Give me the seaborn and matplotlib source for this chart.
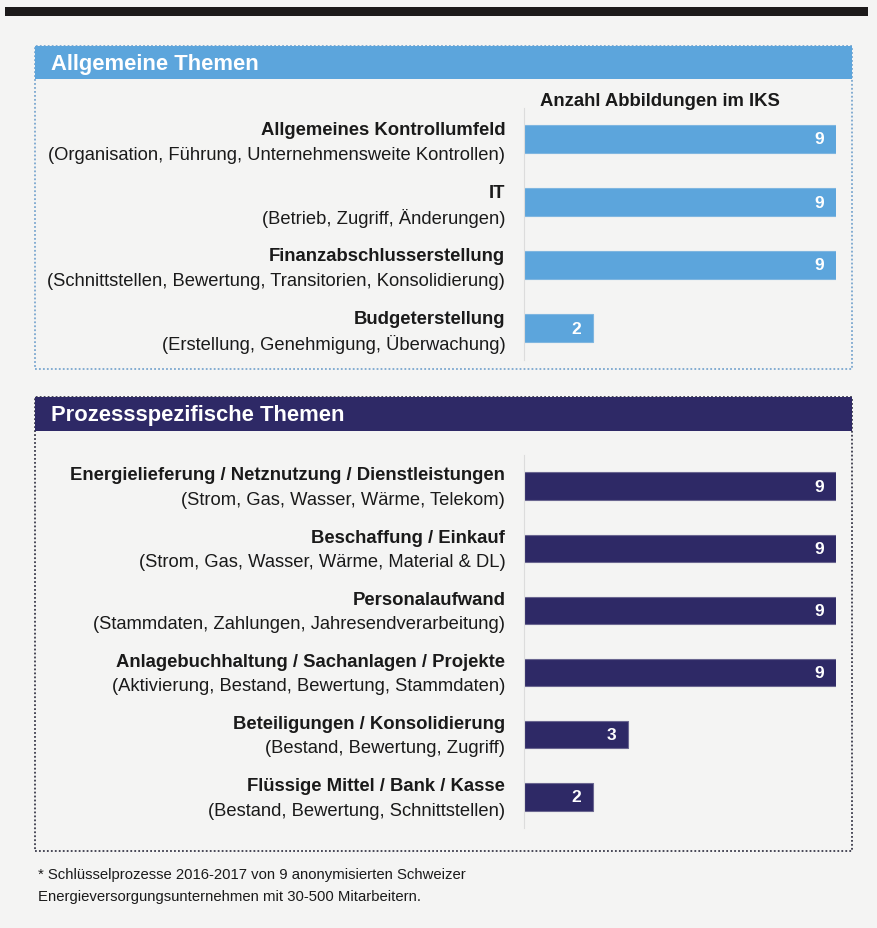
import matplotlib
matplotlib.use("Agg")
import matplotlib.pyplot as plt
from matplotlib.patches import Rectangle
import seaborn as sns
import pandas as pd

# ---- data ----
general_topics = ["Allgemeines Kontrollumfeld", "IT", "Finanzabschlusserstellung", "Budgeterstellung"]
general_details = ["(Organisation, Führung, Unternehmensweite Kontrollen)",
                   "(Betrieb, Zugriff, Änderungen)",
                   "(Schnittstellen, Bewertung, Transitorien, Konsolidierung)",
                   "(Erstellung, Genehmigung, Überwachung)"]
general_counts = [9, 9, 9, 2]

process_topics = ["Energielieferung / Netznutzung / Dienstleistungen", "Beschaffung / Einkauf",
                  "Personalaufwand", "Anlagebuchhaltung / Sachanlagen / Projekte",
                  "Beteiligungen / Konsolidierung", "Flüssige Mittel / Bank / Kasse"]
process_details = ["(Strom, Gas, Wasser, Wärme, Telekom)",
                   "(Strom, Gas, Wasser, Wärme, Material & DL)",
                   "(Stammdaten, Zahlungen, Jahresendverarbeitung)",
                   "(Aktivierung, Bestand, Bewertung, Stammdaten)",
                   "(Bestand, Bewertung, Zugriff)",
                   "(Bestand, Bewertung, Schnittstellen)"]
process_counts = [9, 9, 9, 9, 3, 2]

header1 = "Allgemeine Themen"
header2 = "Prozessspezifische Themen"
axis_title = "Anzahl Abbildungen im IKS"
footnote = ("* Schlüsselprozesse 2016-2017 von 9 anonymisierten Schweizer\n"
            "Energieversorgungsunternehmen mit 30-500 Mitarbeitern.")

BLUE = "#5ca5dc"
PURPLE = "#2e2966"
BG = "#f4f4f3"

sns.set_theme(style="white")
plt.rcParams["font.family"] = ["Liberation Sans", "DejaVu Sans"]

W, H = 877, 929
fig = plt.figure(figsize=(W / 100, H / 100), dpi=100)
fig.patch.set_facecolor(BG)

def fx(px):
    return px / W

def fy(py):
    return 1 - py / H

# top black rule
fig.add_artist(Rectangle((fx(5), fy(17)), fx(868) - fx(5), fy(8) - fy(17),
                         transform=fig.transFigure, color="#1c1a1a", lw=0))

def panel(top, bottom, head_h, color, edge, title):
    # dotted frame
    fig.add_artist(Rectangle((fx(35), fy(bottom)), fx(852) - fx(35), fy(top) - fy(bottom),
                             transform=fig.transFigure, fill=False, ec=edge, lw=1.3,
                             ls=(0, (1, 1.2))))
    # header band
    fig.add_artist(Rectangle((fx(35), fy(top + head_h)), fx(852) - fx(35), fy(top) - fy(top + head_h),
                             transform=fig.transFigure, color=color, lw=0))
    fig.text(fx(51), fy(top + head_h / 2 + 1), title, color="white", fontsize=15.8,
             fontweight="bold", va="center", ha="left")

panel(47, 370, 33, BLUE, "#7ba7cf", header1)
panel(398, 852, 34, PURPLE, "#3a3a4a", header2)

def bar_axis(top_px, bottom_px, n, topics, details, counts, color, edge, t_off, d_off):
    ax = fig.add_axes([fx(524), fy(bottom_px), fx(836) - fx(524), fy(top_px) - fy(bottom_px)])
    df = pd.DataFrame({"Thema": topics, "Anzahl": counts})
    sns.barplot(data=df, x="Anzahl", y="Thema", orient="h", color=color, width=0.44,
                saturation=1, edgecolor=edge, linewidth=0.8, ax=ax)
    ax.set_xlim(0, 9)
    ax.set_ylim(n - 0.5, -0.5)
    ax.set_facecolor("none")
    ax.set_xticks([])
    ax.set_yticks([])
    ax.set_xlabel("")
    ax.set_ylabel("")
    for s in ["top", "right", "bottom"]:
        ax.spines[s].set_visible(False)
    ax.spines["left"].set_color("#dcdcdc")
    ax.spines["left"].set_linewidth(0.8)
    tr = ax.get_yaxis_transform()
    for i, (t, d, v) in enumerate(zip(topics, details, counts)):
        ax.text(-0.06, i + t_off, t, transform=tr, ha="right", va="center",
                fontsize=13.3, fontweight="bold", color="#1a1a1a")
        ax.text(-0.06, i + d_off, d, transform=tr, ha="right", va="center",
                fontsize=13.2, color="#1a1a1a")
        ax.text(v - 0.49, i, str(v), ha="center", va="center", color="white",
                fontsize=12.5, fontweight="bold")
    return ax

ax1 = bar_axis(108.5, 360.5, 4, general_topics, general_details, general_counts,
               BLUE, "#7fb6e0", -0.15, 0.25)
ax2 = bar_axis(455.9, 829.1, 6, process_topics, process_details, process_counts,
               PURPLE, "#6a6690", -0.18, 0.21)

fig.text(fx(660), fy(102), axis_title, ha="center", va="center", fontsize=13.3,
         fontweight="bold", color="#1a1a1a")

fig.text(fx(38), fy(886), footnote, ha="left", va="center", fontsize=10.7,
         color="#1a1a1a", linespacing=1.7)

fig.savefig("out.png", dpi=100, facecolor=BG)
